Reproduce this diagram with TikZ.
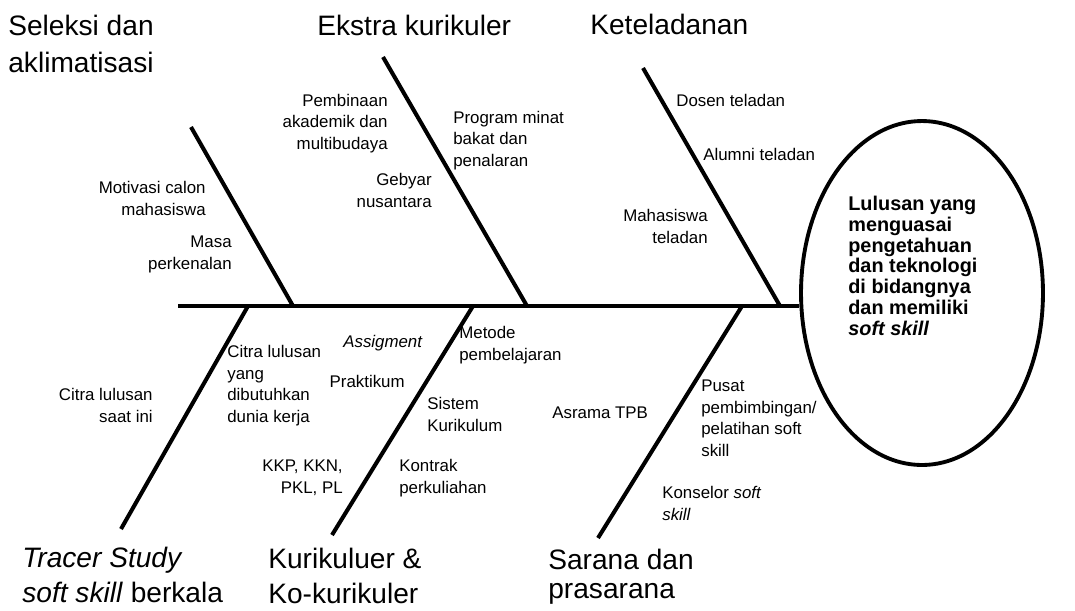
\documentclass[tikz,border=0pt]{standalone}
\usepackage{fontspec}
\setmainfont{Liberation Sans}
\usetikzlibrary{shapes.geometric}

\tikzset{
  bone/.style={line width=2.3pt},
  cause/.style={font=\fontsize{16}{19.5}\selectfont, align=left, anchor=base west, inner sep=0pt},
  subl/.style={font=\fontsize{9.6}{12.2}\selectfont, align=left, anchor=base west, inner sep=0pt},
  subr/.style={font=\fontsize{9.6}{12.2}\selectfont, align=right, anchor=base east, inner sep=0pt},
}

\begin{document}
\begin{tikzpicture}[x=0.02cm, y=-0.02cm]
\useasboundingbox (0,0) rectangle (1075,610);

% head
\node[draw, ellipse, line width=2.2pt, minimum width=4.84cm, minimum height=6.88cm] (goal) at (922,293) {};
\node[anchor=base west, align=left, inner sep=0pt, font=\fontsize{11.3}{11.8}\selectfont\bfseries] (goaltext) at (848,335)
  {Lulusan yang\\menguasai\\pengetahuan\\dan teknologi\\di bidangnya\\dan memiliki\\\textit{soft skill}};

% spine and bones
\coordinate (tail) at (178,306);
\coordinate (sel) at (191,127);  \coordinate (sel0) at (293,306);
\coordinate (eks) at (383,57);   \coordinate (eks0) at (527,306);
\coordinate (ket) at (643,68);   \coordinate (ket0) at (780,306);
\coordinate (tra) at (121,529);  \coordinate (tra0) at (248,306);
\coordinate (kur) at (332,535);  \coordinate (kur0) at (473,306);
\coordinate (sar) at (598,538);  \coordinate (sar0) at (742,306);
\draw[bone] (tail) -- (tail -| goal.west);
\draw[bone] (sel) -- (sel0);
\draw[bone] (eks) -- (eks0);
\draw[bone] (ket) -- (ket0);
\draw[bone] (tra) -- (tra0);
\draw[bone] (kur) -- (kur0);
\draw[bone] (sar) -- (sar0);

% causes (placed at the baseline of their last line)
\node[cause, font=\fontsize{16}{21}\selectfont] (Sel) at (8,72) {Seleksi dan\\aklimatisasi};
\node[cause] (Eks) at (317,35) {Ekstra kurikuler};
\node[cause] (Ket) at (590,34) {Keteladanan};
\node[cause] (Tra) at (22,602) {\textit{Tracer Study}\\\textit{soft skill} berkala};
\node[cause] (Kur) at (268,603) {Kurikuluer \&\\Ko-kurikuler};
\node[cause, font=\fontsize{16}{16.5}\selectfont] (Sar) at (548,598) {Sarana dan\\prasarana};

% sub causes
\node[subr] (mot) at (206,215) {Motivasi calon\\mahasiswa};
\node[subr] (mas) at (232,269) {Masa\\perkenalan};
\node[subr] (pem) at (388,149) {Pembinaan\\akademik dan\\multibudaya};
\node[subr] (geb) at (432,207) {Gebyar\\nusantara};
\node[subl] (pro) at (453,166) {Program minat\\bakat dan\\penalaran};
\node[subl] (dos) at (676,106) {Dosen teladan};
\node[subl] (alu) at (703,160) {Alumni teladan};
\node[subr] (mah) at (708,243) {Mahasiswa\\teladan};
\node[subr] (cit) at (153,422) {Citra lulusan\\saat ini};
\node[subl] (cit2) at (227,422) {Citra lulusan\\yang\\dibutuhkan\\dunia kerja};
\node[subr] (ass) at (423,347) {\textit{Assigment}};
\node[subr] (pra) at (405,387) {Praktikum};
\node[subr] (kkp) at (343,493) {KKP, KKN,\\PKL, PL};
\node[subl] (met) at (459,360) {Metode\\pembelajaran};
\node[subl] (sis) at (427,431) {Sistem\\Kurikulum};
\node[subl] (kon) at (399,493) {Kontrak\\perkuliahan};
\node[subl] (asr) at (552,418) {Asrama TPB};
\node[subl] (pus) at (701,456) {Pusat\\pembimbingan/\\pelatihan soft\\skill};
\node[subl] (kns) at (662,520) {Konselor \textit{soft}\\\textit{skill}};
\end{tikzpicture}
\end{document}
